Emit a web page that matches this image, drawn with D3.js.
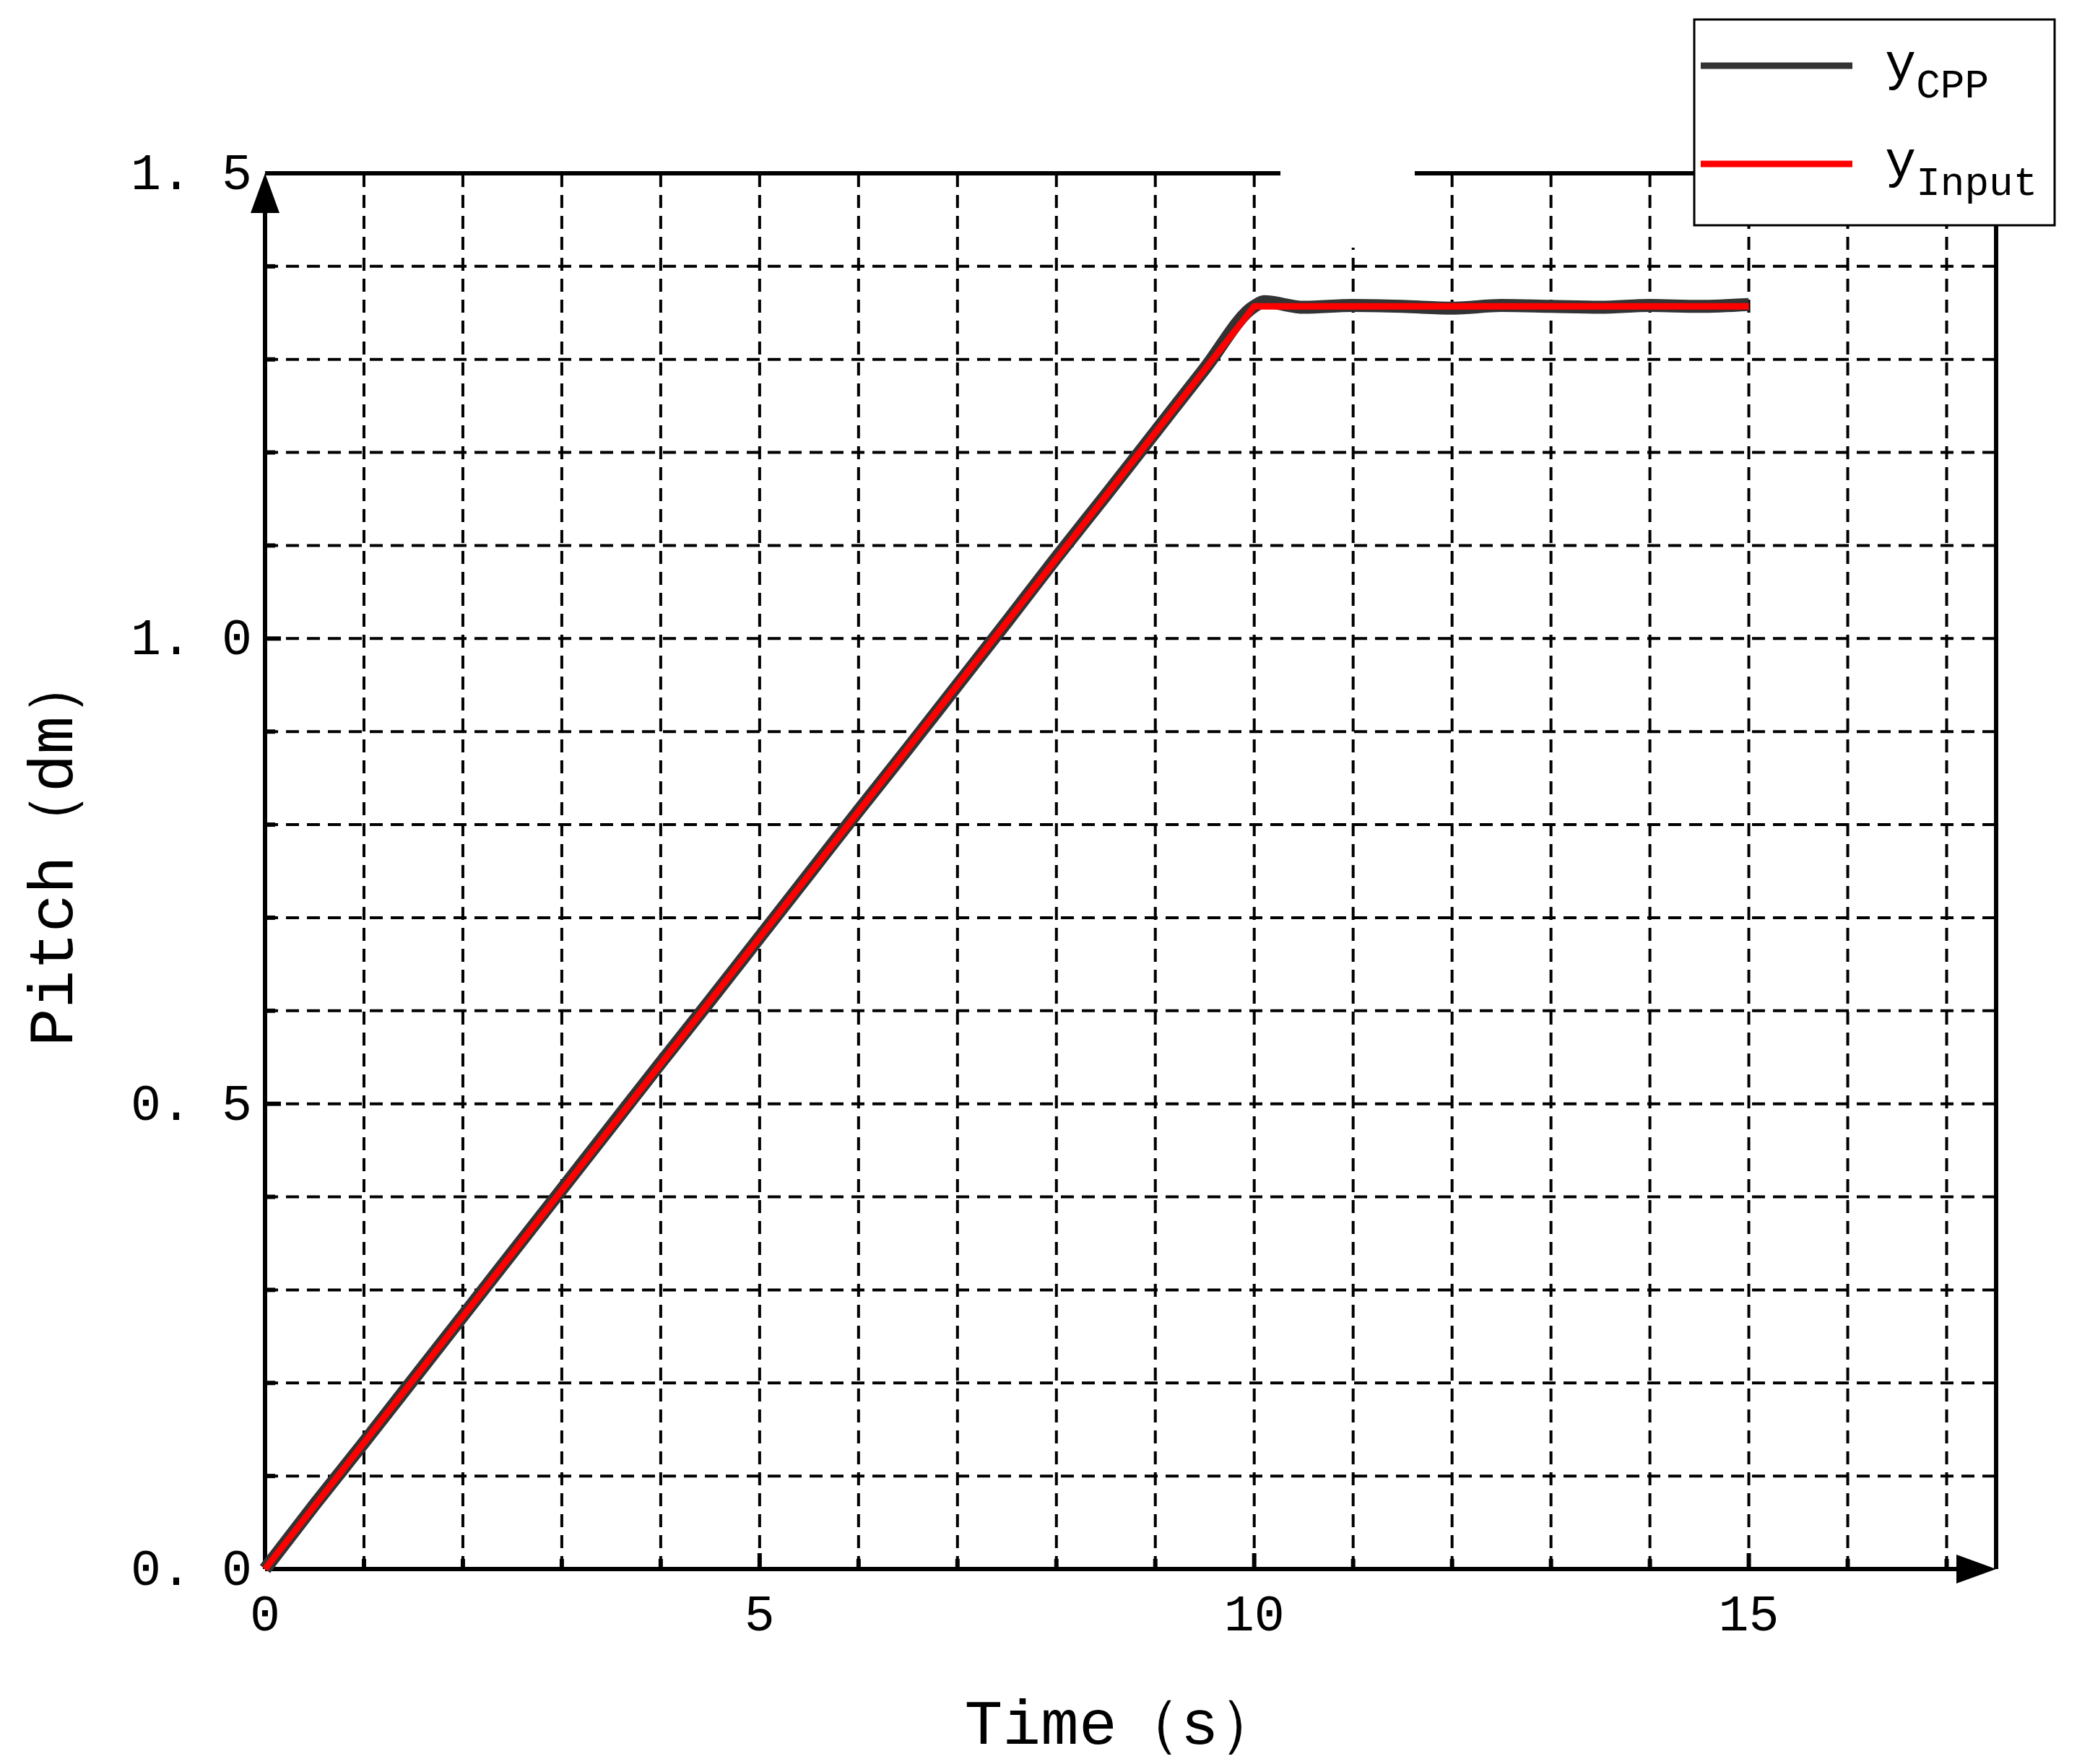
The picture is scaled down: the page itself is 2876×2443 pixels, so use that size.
<!DOCTYPE html><html><head><meta charset="utf-8">
<script src="https://cdn.jsdelivr.net/npm/d3@7"></script>
<style>body{margin:0;background:#fff}</style></head><body><svg id="c" width="2876" height="2443"></svg>
<script>
const inputT=[0,10,15];
const inputY=[0,1.357,1.357];
const cppT=[0,0.5,1,1.5,2,2.5,3,3.5,4,4.5,5,5.5,6,6.5,7,7.5,8,8.5,9,9.5,10,10.1,10.5,11,11.5,12,12.5,13,13.5,14,14.5,15];
const cppY=[0,0.069,0.136,0.204,0.272,0.340,0.408,0.476,0.544,0.611,0.679,0.747,0.815,0.882,0.950,1.018,1.087,1.154,1.222,1.290,1.357,1.362,1.356,1.358,1.357,1.355,1.358,1.357,1.356,1.358,1.357,1.359];
const xTicks=[0,5,10,15], yTicks=[0,0.5,1.0,1.5];
const svg=d3.select("#c");
const L=367,R=2764,T=240,B=2173;
const x=d3.scaleLinear().domain([0,17.5]).range([L,R]);
const y=d3.scaleLinear().domain([0,1.5]).range([B,T]);
const g=svg.append("g");
for(let i=1;i<=17;i++) g.append("line").attr("x1",x(i)).attr("x2",x(i)).attr("y1",y(0)).attr("y2",i==11?y(1.42):y(1.5)).attr("stroke","#000").attr("stroke-width",4).attr("stroke-dasharray","18,11");
for(let j=1;j<=14;j++) g.append("line").attr("x1",x(0)).attr("x2",x(17.5)).attr("y1",y(j/10)).attr("y2",y(j/10)).attr("stroke","#000").attr("stroke-width",4).attr("stroke-dasharray","18,11");
const ax=svg.append("g").attr("stroke","#000").attr("stroke-width",6);
ax.append("line").attr("x1",L).attr("x2",R-40).attr("y1",B).attr("y2",B);
ax.append("line").attr("x1",L).attr("x2",L).attr("y1",B).attr("y2",T+40);
ax.append("line").attr("x1",R).attr("x2",R).attr("y1",B).attr("y2",T);
ax.append("line").attr("x1",L).attr("x2",1773).attr("y1",T).attr("y2",T);
ax.append("line").attr("x1",1959).attr("x2",R).attr("y1",T).attr("y2",T);
svg.append("path").attr("d",`M${R},${B}L${R-55},${B-20}L${R-55},${B+20}Z`);
svg.append("path").attr("d",`M${L},${T}L${L-20},${T+55}L${L+20},${T+55}Z`);
for(let i=0;i<=17;i++){const big=i%5==0;ax.append("line").attr("x1",x(i)).attr("x2",x(i)).attr("y1",B).attr("y2",B-(big?22:14));}
for(let j=0;j<=15;j++){const big=j%5==0;ax.append("line").attr("x1",L).attr("x2",L+(big?22:14)).attr("y1",y(j/10)).attr("y2",y(j/10));}
const F="'Liberation Mono','DejaVu Sans Mono',monospace";
xTicks.forEach(t=>svg.append("text").attr("x",x(t)).attr("y",B+85).attr("text-anchor","middle").attr("font-family",F).attr("font-size",70).text(t));
yTicks.forEach(t=>svg.append("text").attr("x",L-18).attr("y",y(t)+22).attr("text-anchor","end").attr("font-family",F).attr("font-size",70).text(t.toFixed(1).replace(".",". ")));
svg.append("text").attr("x",(L+R)/2-10).attr("y",2415).attr("text-anchor","middle").attr("font-family",F).attr("font-size",88).text("Time（s）");
svg.append("text").attr("transform",`translate(100,${(T+B)/2-30}) rotate(-90)`).attr("text-anchor","middle").attr("font-family",F).attr("font-size",88).text("Pitch（dm）");
const line=d3.line().x(d=>x(d[0])).y(d=>y(d[1])).curve(d3.curveMonotoneX);
svg.append("path").attr("d",line(cppT.map((t,i)=>[t,cppY[i]]))).attr("fill","none").attr("stroke","#333").attr("stroke-width",18).attr("stroke-linejoin","round");
svg.append("path").attr("d",d3.line().x(d=>x(d[0])).y(d=>y(d[1]))(inputT.map((t,i)=>[t,inputY[i]]))).attr("fill","none").attr("stroke","#ff0000").attr("stroke-width",9).attr("stroke-linejoin","round");
svg.append("rect").attr("x",2346).attr("y",27).attr("width",499).attr("height",285).attr("fill","#fff").attr("stroke","#000").attr("stroke-width",3);
svg.append("line").attr("x1",2355).attr("x2",2565).attr("y1",91).attr("y2",91).attr("stroke","#333").attr("stroke-width",9);
svg.append("line").attr("x1",2355).attr("x2",2565).attr("y1",227).attr("y2",227).attr("stroke","#ff0000").attr("stroke-width",9);
const l1=svg.append("text").attr("x",2610).attr("y",110).attr("font-family",F).attr("font-size",72);
l1.append("tspan").text("y");l1.append("tspan").attr("font-size",56).attr("dy",25).text("CPP");
const l2=svg.append("text").attr("x",2610).attr("y",245).attr("font-family",F).attr("font-size",72);
l2.append("tspan").text("y");l2.append("tspan").attr("font-size",56).attr("dy",25).text("Input");
</script></body></html>
